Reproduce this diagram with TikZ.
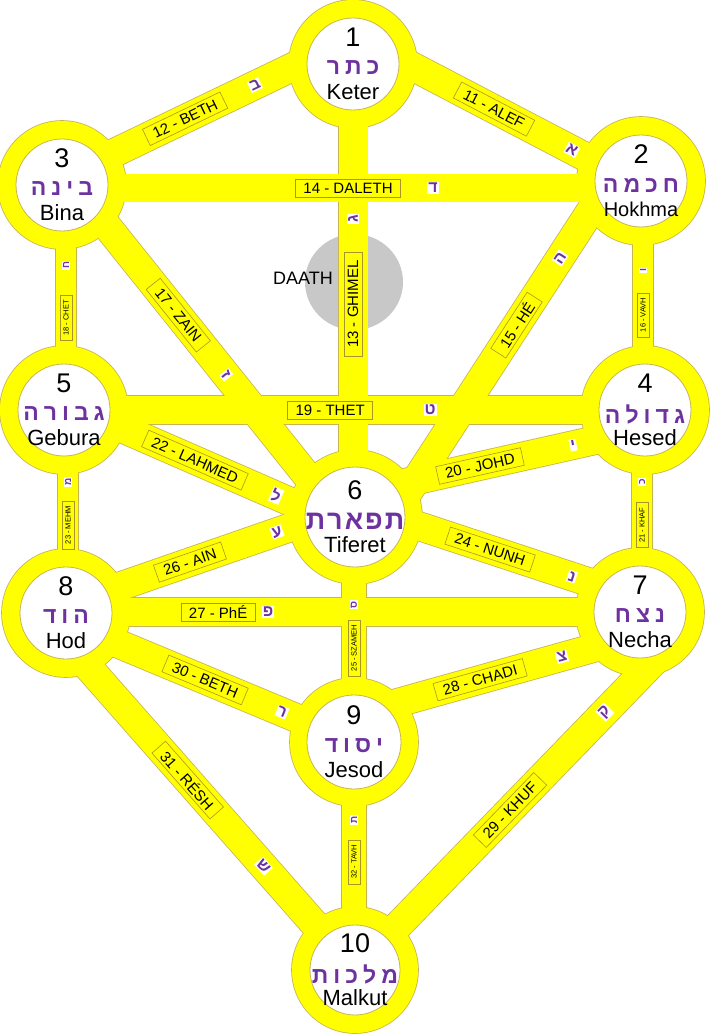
\documentclass[tikz,border=0pt]{standalone}
\usepackage{fontspec}
\setmainfont{Liberation Sans}
\newfontfamily\heb[Script=Hebrew]{Liberation Sans}
\TeXXeTstate=1
\definecolor{yel}{RGB}{255,255,0}
\definecolor{edge}{RGB}{200,180,80}
\definecolor{lbledge}{RGB}{170,150,40}
\definecolor{purp}{RGB}{110,50,160}
\definecolor{daathgray}{RGB}{200,200,200}
\newcommand\hs{\hspace{5pt}}
\begin{document}
\begin{tikzpicture}[x=1pt,y=-1pt,
  lbl/.style={draw=lbledge, line width=0.6pt, fill=yel, font=\fontsize{15}{15}\selectfont, inner xsep=8pt, inner ysep=0pt, minimum height=18pt},
  slbl/.style={draw=lbledge, line width=0.5pt, fill=yel, font=\fontsize{7.5}{7.5}\selectfont, inner xsep=5pt, inner ysep=0pt, minimum height=12pt, rotate=90},
  hletter/.style={fill=white, inner sep=1pt, text=purp, font=\heb\bfseries\fontsize{16}{16}\selectfont},
  shletter/.style={fill=white, inner sep=1pt, text=purp, font=\heb\bfseries\fontsize{10}{10}\selectfont, rotate=90},
  numtxt/.style={font=\fontsize{27}{27}\selectfont},
  namtxt/.style={font=\fontsize{22}{22}\selectfont},
  hebtxt/.style={text=purp, font=\heb\bfseries\fontsize{23}{23}\selectfont},
]
\fill[white] (0,0) rectangle (710,1035);
\useasboundingbox (0,0) rectangle (710,1035);
% sephirot centres
\coordinate (keter) at (353,64);
\coordinate (hokhma) at (641,181);
\coordinate (bina) at (62,185);
\coordinate (hesed) at (645,410);
\coordinate (gebura) at (64,410);
\coordinate (tiferet) at (355,517);
\coordinate (necha) at (640,612);
\coordinate (hod) at (66,613);
\coordinate (jesod) at (354,742);
\coordinate (malkut) at (355,970);
% band ends
\coordinate (p11a) at (360,39);  \coordinate (p11b) at (641,186);
\coordinate (p12a) at (62,178);  \coordinate (p12b) at (353,38);
\coordinate (p13a) at (353,517); \coordinate (p13b) at (353,64);
\coordinate (p14a) at (62,188);  \coordinate (p14b) at (641,188);
\coordinate (p15a) at (392,517); \coordinate (p15b) at (610,181);
\coordinate (p16a) at (643,410); \coordinate (p16b) at (643,181);
\coordinate (p17a) at (74,185);  \coordinate (p17b) at (340,517);
\coordinate (p18a) at (66,410);  \coordinate (p18b) at (66,185);
\coordinate (p19a) at (64,410);  \coordinate (p19b) at (645,410);
\coordinate (p20a) at (355,494); \coordinate (p20b) at (645,429);
\coordinate (p21a) at (642,612); \coordinate (p21b) at (642,410);
\coordinate (p22a) at (64,403);  \coordinate (p22b) at (355,530);
\coordinate (p23a) at (68,613);  \coordinate (p23b) at (68,410);
\coordinate (p24a) at (355,505); \coordinate (p24b) at (640,599);
\coordinate (p25a) at (354,742); \coordinate (p25b) at (354,517);
\coordinate (p26a) at (66,605);  \coordinate (p26b) at (355,505);
\coordinate (p27a) at (66,612);  \coordinate (p27b) at (640,612);
\coordinate (p28a) at (354,715); \coordinate (p28b) at (640,635);
\coordinate (p29a) at (355,970); \coordinate (p29b) at (665,650);
\coordinate (p30a) at (66,622);  \coordinate (p30b) at (354,742);
\coordinate (p31a) at (60,635);  \coordinate (p31b) at (355,970);
\coordinate (p32a) at (354,970); \coordinate (p32b) at (354,742);
% Daath
\fill[daathgray] (354,282) ellipse [x radius=49pt, y radius=48pt];
% band outlines
\foreach \b/\w in {11/28,12/28,13/29,14/27,15/28,16/20,17/28,18/20,19/28,20/28,21/20,22/28,23/20,24/28,25/24,26/28,27/28,28/28,29/28,30/28,31/28,32/24}
  \draw[edge, line width={(\w+1.6)*1pt}] (p\b a) -- (p\b b);
\foreach \c/\R in {keter/64,hokhma/64,bina/64,hesed/64,gebura/64,tiferet/67,necha/64,hod/64,jesod/64,malkut/63}
  \fill[edge] (\c) circle ({(\R+0.8)*1pt});
% band fills
\foreach \b/\w in {11/28,12/28,13/29,14/27,15/28,16/20,17/28,18/20,19/28,20/28,21/20,22/28,23/20,24/28,25/24,26/28,27/28,28/28,29/28,30/28,31/28,32/24}
  \draw[yel, line width=\w pt] (p\b a) -- (p\b b);
\foreach \c/\R/\r in {keter/64/46,hokhma/64/46,bina/64/46,hesed/64/46,gebura/64/46,tiferet/67/50,necha/64/46,hod/64/46,jesod/64/47,malkut/63/45}{
  \fill[yel] (\c) circle (\R pt);
  \draw[edge, fill=white, line width=0.8pt] (\c) circle (\r pt);
}
\node[font=\fontsize{18}{18}\selectfont] (daath) at (303,278) {DAATH};
% labels and letters
\path (p11a) -- (p11b) node[lbl, sloped, pos=0.477] (l11) {11 - ALEF} node[hletter, sloped, pos=0.754] (h11) {א};
\path (p12a) -- (p12b) node[lbl, sloped, pos=0.423] (l12) {12 - BETH} node[hletter, sloped, pos=0.663] (h12) {ב};
\path (p13a) -- (p13b) node[lbl, rotate=90, pos=0.470] (l13) {13 - GHIMEL} node[hletter, rotate=90, pos=0.658] (h13) {ג};
\path (p14a) -- (p14b) node[lbl, pos=0.494] (l14) {14 - DALETH} node[hletter, pos=0.641] (h14) {ד};
\path (p15a) -- (p15b) node[lbl, sloped, pos=0.571] (l15) {15 - HÉ} node[hletter, sloped, pos=0.771] (h15) {ה};
\path (p16a) -- (p16b) node[slbl, pos=0.415] (l16) {16 - VAVH} node[shletter, pos=0.611] (h16) {ו};
\path (p17a) -- (p17b) node[lbl, sloped, pos=0.392] (l17) {17 - ZAIN} node[hletter, sloped, pos=0.572] (h17) {ז};
\path (p18a) -- (p18b) node[slbl, pos=0.409] (l18) {18 - CHET} node[shletter, pos=0.644] (h18) {ח};
\path (p19a) -- (p19b) node[lbl, pos=0.458] (l19) {19 - THET} node[hletter, pos=0.630] (h19) {ט};
\path (p20a) -- (p20b) node[lbl, sloped, pos=0.431] (l20) {20 - JOHD} node[hletter, sloped, pos=0.752] (h20) {י};
\path (p21a) -- (p21b) node[slbl, pos=0.431] (l21) {21 - KHAF} node[shletter, pos=0.644] (h21) {כ};
\path (p22a) -- (p22b) node[lbl, sloped, pos=0.450] (l22) {22 - LAHMED} node[hletter, sloped, pos=0.729] (h22) {ל};
\path (p23a) -- (p23b) node[slbl, pos=0.433] (l23) {23 - MEHM} node[shletter, pos=0.645] (h23) {מ};
\path (p24a) -- (p24b) node[lbl, sloped, pos=0.474] (l24) {24 - NUNH} node[hletter, sloped, pos=0.761] (h24) {נ};
\path (p25a) -- (p25b) node[slbl, pos=0.418] (l25) {25 - SZAMEH} node[shletter, pos=0.609] (h25) {ס};
\path (p26a) -- (p26b) node[lbl, sloped, pos=0.429] (l26) {26 - AIN} node[hletter, sloped, pos=0.730] (h26) {ע};
\path (p27a) -- (p27b) node[lbl, pos=0.265] (l27) {27 - PhÉ} node[hletter, pos=0.352] (h27) {פ};
\path (p28a) -- (p28b) node[lbl, sloped, pos=0.441] (l28) {28 - CHADI} node[hletter, sloped, pos=0.727] (h28) {צ};
\path (p29a) -- (p29b) node[lbl, sloped, pos=0.500] (l29) {29 - KHUF} node[hletter, sloped, pos=0.806] (h29) {ק};
\path (p30a) -- (p30b) node[lbl, sloped, pos=0.483] (l30) {30 - BETH} node[hletter, sloped, pos=0.750] (h30) {ר};
\path (p31a) -- (p31b) node[lbl, sloped, pos=0.433] (l31) {31 - RÉSH} node[hletter, sloped, pos=0.690] (h31) {ש};
\path (p32a) -- (p32b) node[slbl, pos=0.474] (l32) {32 - TAVH} node[shletter, pos=0.658] (h32) {ת};
% sephirot texts
\foreach \c/\n/\h/\t/\fs/\hf in {
  keter/1/{כ\hs ת\hs ר}/Keter/22/23,
  hokhma/2/{ח\hs כ\hs מ\hs ה}/Hokhma/20/23,
  bina/3/{ב\hs י\hs נ\hs ה}/Bina/22/23,
  hesed/4/{ג\hs ד\hs ו\hs ל\hs ה}/Hesed/22/23,
  gebura/5/{ג\hs ב\hs ו\hs ר\hs ה}/Gebura/22/23,
  tiferet/6/{ת\hspace{2pt}פ\hspace{2pt}א\hspace{2pt}ר\hspace{2pt}ת}/Tiferet/22/27,
  necha/7/{נ\hs צ\hs ח}/Necha/22/23,
  hod/8/{ה\hs ו\hs ד}/Hod/22/23,
  jesod/9/{י\hs ס\hs ו\hs ד}/Jesod/22/23,
  malkut/10/{מ\hs ל\hs כ\hs ו\hs ת}/Malkut/22/23}{
  \node[numtxt, yshift=27pt] (\c-num) at (\c) {\n};
  \node[hebtxt, font=\heb\bfseries\fontsize{\hf}{\hf}\selectfont, yshift=-4pt] (\c-heb) at (\c) {\beginR\h\endR};
  \node[font=\fontsize{\fs}{\fs}\selectfont, yshift=-28pt] (\c-name) at (\c) {\t};
}
\end{tikzpicture}
\end{document}
